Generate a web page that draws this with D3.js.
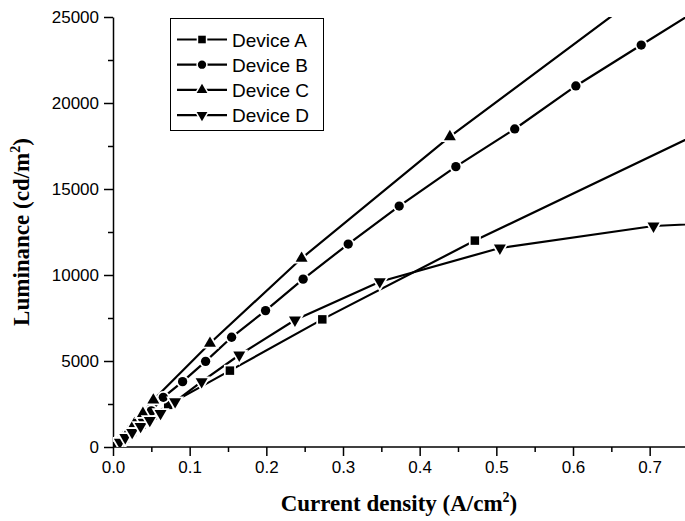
<!DOCTYPE html>
<html>
<head>
<meta charset="utf-8">
<script src="https://cdn.jsdelivr.net/npm/d3@7"></script>
<style>
    body { margin: 0; background: #fff; }
    svg { display: block; }
</style>
</head>
<body>
<svg id="grafico" width="685" height="521"></svg>
<script>
// valores
var dispositivos = ["Device A", "Device B", "Device C", "Device D"];

var corrienteA = [0.004, 0.009, 0.016, 0.025, 0.037, 0.052, 0.072, 0.1525, 0.273, 0.472, 0.80];
var luminanciaA = [90, 250, 500, 850, 1300, 1850, 2450, 4440, 7420, 12000, 19000];

var corrienteB = [0.004, 0.009, 0.016, 0.026, 0.038, 0.05, 0.0656, 0.0908, 0.1208, 0.1547, 0.199, 0.248, 0.3068, 0.3733, 0.4472, 0.524, 0.6037, 0.689, 0.78];
var luminanciaB = [100, 300, 600, 1000, 1500, 2100, 2890, 3800, 4980, 6380, 7930, 9760, 11800, 14010, 16300, 18490, 20990, 23370, 25900];

var corrienteC = [0.003, 0.007, 0.013, 0.02, 0.028, 0.039, 0.0526, 0.1265, 0.246, 0.4394, 0.70];
var luminanciaC = [80, 250, 550, 900, 1350, 1950, 2730, 6030, 10970, 18040, 26700];

var corrienteD = [0.004, 0.009, 0.016, 0.025, 0.036, 0.048, 0.062, 0.081, 0.1156, 0.1647, 0.2373, 0.348, 0.5046, 0.705, 0.85];
var luminanciaD = [100, 280, 550, 850, 1200, 1550, 1950, 2640, 3800, 5350, 7380, 9610, 11570, 12850, 13150];

var ticksX = [0.0, 0.1, 0.2, 0.3, 0.4, 0.5, 0.6, 0.7];
var ticksY = [0, 5000, 10000, 15000, 20000, 25000];

var series = [
    { nombre: dispositivos[0], x: corrienteA, y: luminanciaA, simbolo: d3.symbolSquare, tam: 72, rot: 0 },
    { nombre: dispositivos[1], x: corrienteB, y: luminanciaB, simbolo: d3.symbolCircle, tam: 68, rot: 0 },
    { nombre: dispositivos[2], x: corrienteC, y: luminanciaC, simbolo: d3.symbolTriangle, tam: 62, rot: 0 },
    { nombre: dispositivos[3], x: corrienteD, y: luminanciaD, simbolo: d3.symbolTriangle, tam: 62, rot: 180 }
];

var margin = { top: 17, right: 0, bottom: 74, left: 113 },
    width = 685 - margin.left - margin.right,
    height = 521 - margin.top - margin.bottom;

var svg = d3.select("#grafico")
    .append("g")
    .attr("transform", "translate(" + margin.left + "," + margin.top + ")");

var x = d3.scaleLinear().domain([0, 0.75]).range([0, 575]);
var y = d3.scaleLinear().domain([0, 25000]).range([height, 0]);

svg.append("defs").append("clipPath")
    .attr("id", "recorte")
    .append("rect")
    .attr("x", 0).attr("y", 0)
    .attr("width", width).attr("height", height);

function estiloEje(g) {
    g.selectAll("path").attr("stroke", "#000").attr("stroke-width", 1.5);
    g.selectAll("line").attr("stroke", "#000").attr("stroke-width", 1.5);
    g.selectAll("text")
        .attr("fill", "#000")
        .style("font-family", "'Liberation Sans', Arial, sans-serif")
        .style("font-size", "17px");
}

// ticks menores
svg.append("g")
    .attr("transform", "translate(0," + height + ")")
    .call(d3.axisBottom(x).tickValues(d3.range(0.05, 0.75, 0.1)).tickSize(5).tickFormat(""))
    .call(estiloEje)
    .select(".domain").remove();
svg.append("g")
    .call(d3.axisLeft(y).tickValues(d3.range(2500, 25000, 5000)).tickSize(5).tickFormat(""))
    .call(estiloEje)
    .select(".domain").remove();

var ejeX = svg.append("g")
    .attr("transform", "translate(0," + height + ")")
    .call(d3.axisBottom(x).tickValues(ticksX).tickSize(9).tickSizeOuter(0).tickPadding(5).tickFormat(d3.format(".1f")))
    .call(estiloEje);
ejeX.select(".domain").attr("d", "M0,0H" + width);

svg.append("g")
    .call(d3.axisLeft(y).tickValues(ticksY).tickSize(9).tickSizeOuter(0).tickPadding(5).tickFormat(d3.format("d")))
    .call(estiloEje);

var linea = d3.line()
    .x(function (d) { return x(d[0]); })
    .y(function (d) { return y(d[1]); });

var trazos = svg.append("g").attr("clip-path", "url(#recorte)");

for (let s of series) {
    let puntos = s.x.map(function (v, i) { return [v, s.y[i]]; });
    trazos.append("path")
        .datum(puntos)
        .attr("fill", "none")
        .attr("stroke", "#000")
        .attr("stroke-width", 2.2)
        .attr("d", linea);
}

for (let s of series) {
    let puntos = s.x.map(function (v, i) { return [v, s.y[i]]; });
    trazos.selectAll(null)
        .data(puntos)
        .enter()
        .append("path")
        .attr("d", d3.symbol().type(s.simbolo).size(s.tam))
        .attr("transform", function (d) {
            return "translate(" + x(d[0]) + "," + y(d[1]) + ") rotate(" + s.rot + ")";
        })
        .attr("fill", "#000")
        .attr("stroke", "#fff")
        .attr("stroke-width", 3.5)
        .style("paint-order", "stroke");
}

// leyenda
var leyenda = svg.append("g").attr("transform", "translate(" + (170 - margin.left) + "," + (18 - margin.top) + ")");
leyenda.append("rect")
    .attr("x", 0.5).attr("y", 0.5)
    .attr("width", 153).attr("height", 112)
    .attr("fill", "#fff")
    .attr("stroke", "#000")
    .attr("stroke-width", 1);

series.forEach(function (s, i) {
    let fila = leyenda.append("g").attr("transform", "translate(0," + (21.5 + i * 25.2) + ")");
    fila.append("line")
        .attr("x1", 7).attr("x2", 57)
        .attr("stroke", "#000")
        .attr("stroke-width", 2.2);
    fila.append("path")
        .attr("d", d3.symbol().type(s.simbolo).size(s.tam * 0.8))
        .attr("transform", "translate(32,0) rotate(" + s.rot + ")")
        .attr("fill", "#000")
        .attr("stroke", "#fff")
        .attr("stroke-width", 3)
        .style("paint-order", "stroke");
    fila.append("text")
        .attr("x", 62)
        .attr("y", 7)
        .style("font-family", "'Liberation Sans', Arial, sans-serif")
        .style("font-size", "19px")
        .text(s.nombre);
});

// titulos de ejes
var tituloX = svg.append("text")
    .attr("x", width / 2)
    .attr("y", height + 64)
    .style("text-anchor", "middle")
    .style("font-family", "'Liberation Serif', 'Times New Roman', serif")
    .style("font-weight", "bold")
    .style("font-size", "23px");
tituloX.append("tspan").text("Current density (A/cm");
tituloX.append("tspan").attr("dy", -9).style("font-size", "14px").text("2");
tituloX.append("tspan").attr("dy", 9).text(")");

var tituloY = svg.append("text")
    .attr("transform", "translate(" + (-84) + "," + (height / 2) + ") rotate(-90)")
    .style("text-anchor", "middle")
    .style("font-family", "'Liberation Serif', 'Times New Roman', serif")
    .style("font-weight", "bold")
    .style("font-size", "23px");
tituloY.append("tspan").text("Luminance (cd/m");
tituloY.append("tspan").attr("dy", -9).style("font-size", "14px").text("2");
tituloY.append("tspan").attr("dy", 9).text(")");
</script>
</body>
</html>
